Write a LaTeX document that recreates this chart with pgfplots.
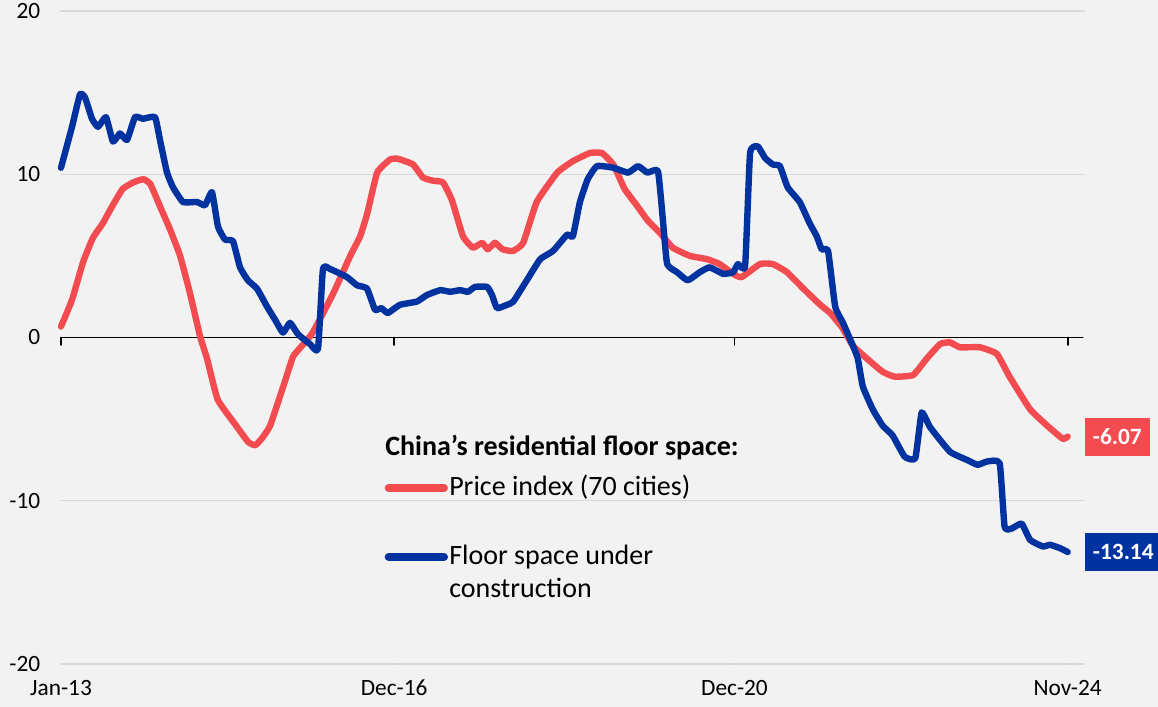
\documentclass[border=0pt]{standalone}
\usepackage{pgfplots}
\pgfplotsset{compat=1.18}
\usepackage{fontspec}
\setmainfont{Carlito}
\definecolor{cred}{HTML}{F24C50}
\definecolor{cblue}{HTML}{00339F}
\definecolor{bg}{HTML}{F2F2F2}
\definecolor{gridc}{HTML}{D9D9D9}

\begin{document}
\begin{tikzpicture}
\fill[bg] (0,0) rectangle (868.5pt,530.25pt);
\path[use as bounding box] (0,0) rectangle (868.5pt,530.25pt);
\begin{axis}[
  at={(45.75pt,32.25pt)}, anchor=south west,
  scale only axis, width=767.25pt, height=489.75pt,
  xmin=0, xmax=144.3, ymin=-20, ymax=20,
  axis line style={draw=none},
  ytick={-20,-10,0,10,20},
  xtick={0,47,95,142},
  xticklabels={Jan-13,Dec-16,Dec-20,Nov-24},
  major tick length=0pt,
  ymajorgrids, grid style={gridc, line width=1.1pt},
  tick label style={font=\fontsize{17.5}{20}\selectfont},
  /pgf/number format/assume math mode=true,
  yticklabel style={anchor=east, xshift=-12pt},
  xticklabel style={yshift=-8.5pt},
  clip=false,
  line join=round, line cap=round,
]
\draw[black, line width=1.4pt] (axis cs:0,0) -- (axis cs:144.1,0);
\draw[black, line width=1.4pt] (axis cs:0,0) -- ([yshift=-5.5pt]axis cs:0,0);
\draw[black, line width=1.4pt] (axis cs:47,0) -- ([yshift=-5.5pt]axis cs:47,0);
\draw[black, line width=1.4pt] (axis cs:95,0) -- ([yshift=-5.5pt]axis cs:95,0);
\draw[black, line width=1.4pt] (axis cs:142,0) -- ([yshift=-5.5pt]axis cs:142,0);
% Price index (70 cities)
\addplot[cred, line width=4.8pt, smooth, tension=0.25] coordinates {
(0,0.67) (1.55,2.3) (3.1,4.6) (4.5,6.1) (5.9,7.0) (7.3,8.1) (8.7,9.1) (10.2,9.5)
(11.6,9.7) (12.6,9.4) (14.0,8.0) (15.4,6.6) (16.8,5.0) (18.2,2.7) (19.6,0.1)
(20.6,-1.3) (22.1,-3.8) (24.7,-5.4) (26.4,-6.4) (27.4,-6.6) (28.3,-6.2) (29.5,-5.4)
(31.5,-2.8) (32.7,-1.2) (33.6,-0.7) (35.5,0.3) (38.4,2.7) (40.8,5.0) (42.2,6.2)
(43.2,7.6) (44.6,10.1) (46.4,10.9) (47.5,10.95) (49.65,10.6) (51.06,9.8) (52.5,9.6)
(53.88,9.5) (55.15,8.4) (56.7,6.2) (58.1,5.5) (59.4,5.8) (60.2,5.4) (61.2,5.8)
(62.3,5.4) (63.75,5.3) (65.2,5.8) (67.1,8.3) (70.0,10.1) (72.2,10.8) (74.6,11.3)
(76.3,11.3) (77.9,10.6) (79.5,9.1) (81.2,8.1) (82.7,7.2) (84.5,6.4) (86.3,5.5)
(88.7,5.0) (91.1,4.8) (92.9,4.5) (94.8,3.9) (96.0,3.7) (98.6,4.5) (100.4,4.5)
(102.4,4.0) (104.7,3.0) (107.1,2.0) (108.5,1.5) (110.2,0.6) (111.7,-0.5)
(113.7,-1.3) (115.9,-2.1) (117.6,-2.4) (120.2,-2.3) (122.1,-1.3) (124.0,-0.4)
(125.4,-0.3) (126.8,-0.6) (129.6,-0.6) (132.0,-1.0) (133.8,-2.4) (136.7,-4.4)
(139.1,-5.4) (141.3,-6.2) (142,-6.07)
};
% Floor space under construction
\addplot[cblue, line width=4.8pt, smooth, tension=0.25] coordinates {
(0,10.4) (1.55,12.9) (2.68,14.9) (3.39,14.7) (4.37,13.4) (5.22,12.9) (6.35,13.5)
(7.33,12.0) (8.32,12.5) (9.31,12.1) (10.44,13.5) (11.57,13.4) (13.26,13.5)
(13.96,12.1) (14.95,10.1) (15.8,9.2) (17.21,8.3) (19.18,8.3) (20.31,8.1) (21.3,8.9)
(22.14,6.8) (23.13,6.0) (24.26,5.9) (25.25,4.3) (26.37,3.5) (27.64,3.0) (29.05,1.9)
(30.18,1.1) (31.31,0.3) (32.3,0.9) (33.43,0.2) (35.12,-0.4) (36.25,-0.7)
(36.95,4.2) (37.94,4.2) (40.34,3.7) (41.75,3.2) (43.16,3.0) (44.29,1.7) (45.2,1.8)
(46.1,1.5) (47.8,2.0) (50.2,2.2) (51.6,2.6) (53.5,2.9) (54.9,2.8) (56.3,2.9)
(57.4,2.8) (58.4,3.1) (60.1,3.1) (60.8,2.6) (61.5,1.8) (62.9,2.0) (63.8,2.2)
(65.7,3.5) (67.6,4.8) (69.4,5.3) (71.4,6.3) (72.2,6.2) (73.2,8.3) (74.3,9.7)
(75.6,10.5) (77.9,10.4) (80.0,10.1) (81.4,10.5) (82.7,10.1) (84.2,10.2) (84.9,7.2)
(85.5,4.5) (86.9,4.0) (88.4,3.5) (90.1,4.0) (91.5,4.3) (93.4,3.9) (94.8,4.0)
(95.5,4.5) (96.5,4.4) (97.2,11.3) (98.3,11.7) (99.3,11.0) (100.4,10.6) (101.4,10.5)
(102.5,9.2) (104.2,8.3) (105.6,7.0) (106.6,6.2) (107.3,5.4) (108.2,5.3) (109.2,1.9)
(110.3,0.9) (111.7,-0.5) (112.4,-1.3) (113.1,-3.0) (114.5,-4.4) (115.9,-5.4)
(117.3,-6.0) (119.0,-7.3) (120.5,-7.4) (121.4,-4.6) (122.6,-5.5) (125.4,-7.0)
(127.8,-7.5) (129.3,-7.8) (130.6,-7.6) (132.4,-7.7) (133.1,-11.6) (134.1,-11.7)
(135.5,-11.4) (136.7,-12.4) (138.5,-12.8) (139.5,-12.7) (140.9,-12.9) (142,-13.14)
};
\node[fill=cred, text=white, font=\bfseries\fontsize{17.5}{20}\selectfont, anchor=west,
  inner xsep=6pt, minimum height=28.5pt, xshift=12.75pt] at (axis cs:142,-6.07) {-6.07};
\node[fill=cblue, text=white, font=\bfseries\fontsize{17.5}{20}\selectfont, anchor=west,
  inner xsep=6pt, minimum height=28.5pt, xshift=12.75pt] at (axis cs:142,-13.14) {-13.14};
\end{axis}
% legend
\node[anchor=base west, inner sep=0pt, font=\bfseries\fontsize{21}{25}\selectfont] at (288.75pt,188.5pt) {China’s residential floor space:};
\draw[cred, line width=6pt, line cap=round] (291.5pt,164.25pt) -- (333pt,164.25pt);
\node[anchor=base west, inner sep=0pt, font=\fontsize{21}{25}\selectfont] at (336.75pt,158.25pt) {Price index (70 cities)};
\draw[cblue, line width=6pt, line cap=round] (291.5pt,112.5pt) -- (333pt,112.5pt);
\node[anchor=base west, inner sep=0pt, font=\fontsize{21}{25}\selectfont] at (336.75pt,106.5pt) {Floor space under};
\node[anchor=base west, inner sep=0pt, font=\fontsize{21}{25}\selectfont] at (336.75pt,81.75pt) {construction};
\end{tikzpicture}
\end{document}
